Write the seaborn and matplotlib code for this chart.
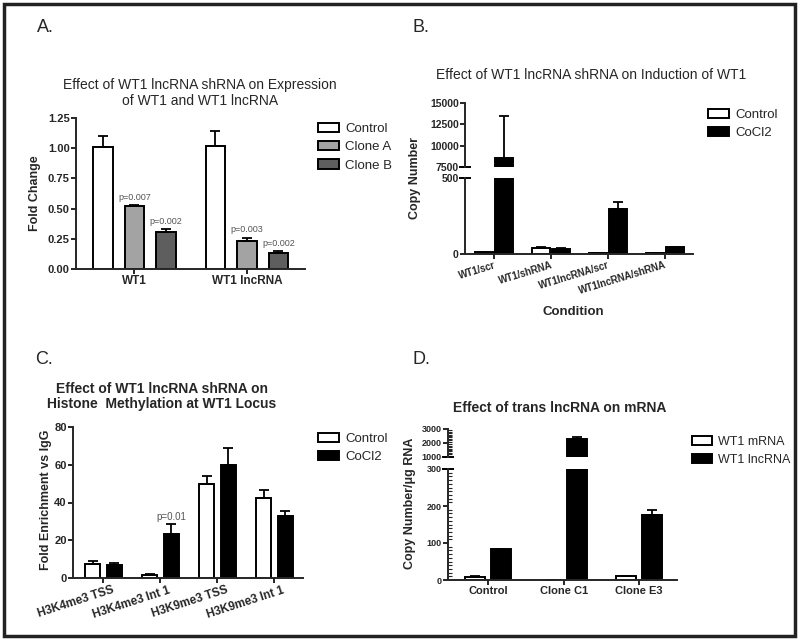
import numpy as np
import pandas as pd
import matplotlib
matplotlib.use('Agg')
import matplotlib.pyplot as plt
from matplotlib.patches import Patch, Rectangle
from matplotlib.ticker import MultipleLocator
import matplotlib.transforms as mtransforms
import seaborn as sns

sns.set_style('ticks')
plt.rcParams['font.family'] = ['Liberation Sans', 'DejaVu Sans']

# ---- data ----
# A: fold change
a_groups = ['WT1', 'WT1 lncRNA']
a_series = ['Control', 'Clone A', 'Clone B']
a_vals = {'Control': [1.01, 1.02], 'Clone A': [0.52, 0.23], 'Clone B': [0.31, 0.13]}
a_errs = {'Control': [0.095, 0.12], 'Clone A': [0.01, 0.03], 'Clone B': [0.02, 0.015]}
a_pvals = {'Clone A': ['p=0.007', 'p=0.003'], 'Clone B': ['p=0.002', 'p=0.002']}
a_colors = ['white', '#a3a3a3', '#5e5e5e']

# B: copy number (broken axis)
b_groups = ['WT1/scr', 'WT1/shRNA', 'WT1lncRNA/scr', 'WT1lncRNA/shRNA']
b_series = ['Control', 'CoCl2']
b_vals = {'Control': [10, 38, 8, 5], 'CoCl2': [8500, 35, 295, 44]}
b_errs = {'Control': [2, 5, 1, 1], 'CoCl2': [4950, 5, 47, 4]}

# C: fold enrichment vs IgG
c_groups = ['H3K4me3 TSS', 'H3K4me3 Int 1', 'H3K9me3 TSS', 'H3K9me3 Int 1']
c_series = ['Control', 'CoCl2']
c_vals = {'Control': [7.4, 1.8, 49.7, 42.4], 'CoCl2': [6.7, 23.5, 60.0, 33.0]}
c_errs = {'Control': [1.8, 0.3, 4.6, 4.0], 'CoCl2': [1.4, 4.9, 9.0, 2.7]}

# D: copy number per ug RNA (broken axis)
d_groups = ['Control', 'Clone C1', 'Clone E3']
d_series = ['WT1 mRNA', 'WT1 lncRNA']
d_vals = {'WT1 mRNA': [8, 1, 10], 'WT1 lncRNA': [83, 2300, 176]}
d_errs = {'WT1 mRNA': [1.5, 0.3, 1.0], 'WT1 lncRNA': [2, 120, 13]}

bw = 1.4  # bar / spine line width


def to_df(groups, series, vals):
    rows = []
    for s in series:
        for g, v in zip(groups, vals[s]):
            rows.append({'group': g, 'series': s, 'value': v})
    return pd.DataFrame(rows)


def fig_ax(l, t, r, b):
    # pixel box -> figure axes
    return fig.add_axes([l / 800, 1 - b / 640, (r - l) / 800, (b - t) / 640])


def draw_bars(ax, groups, series, vals, errs, colors, width, gap):
    df = to_df(groups, series, vals)
    sns.barplot(data=df, x='group', y='value', hue='series', order=groups,
                hue_order=series, palette=colors, saturation=1, errorbar=None,
                edgecolor='black', linewidth=bw, width=width, gap=gap,
                legend=False, ax=ax)
    for cont, s in zip(ax.containers, series):
        for bar, e in zip(cont, errs[s]):
            x = bar.get_x() + bar.get_width() / 2
            ax.errorbar(x, bar.get_height(), yerr=[[0], [e]], fmt='none',
                        ecolor='black', elinewidth=1.3, capsize=3.5, capthick=1.3)


def style(ax, fs=8):
    sns.despine(ax=ax)
    for sp in ['left', 'bottom']:
        ax.spines[sp].set_linewidth(bw)
    ax.tick_params(width=bw, length=3.5, labelsize=fs, pad=1)
    for lab in ax.get_yticklabels() + ax.get_xticklabels():
        lab.set_fontweight('bold')
    ax.set_xlabel('')
    ax.set_ylabel('')


def legend(labels, colors, x, y, fs=9.5):
    handles = [Patch(facecolor=c, edgecolor='black', linewidth=bw) for c in colors]
    fig.legend(handles, labels, loc='upper left', frameon=False,
               bbox_to_anchor=(x / 800, 1 - y / 640), fontsize=fs,
               handlelength=1.6, handleheight=0.7, labelspacing=0.45,
               handletextpad=0.45, borderaxespad=0, borderpad=0)


def break_mark(ax, where):
    ax.plot([0], [where], marker='_', markersize=9, mew=bw, color='black',
            transform=ax.transAxes, clip_on=False)


fig = plt.figure(figsize=(8, 6.4), dpi=100)

# ---------------- A ----------------
ax = fig_ax(76, 118, 305, 269)
draw_bars(ax, a_groups, a_series, a_vals, a_errs, a_colors, 0.84, 0.37)
ax.set_ylim(0, 1.25)
ax.set_xlim(-0.52, 1.516)
ax.set_yticks([0, 0.25, 0.5, 0.75, 1.0, 1.25])
ax.set_yticklabels(['0.00', '0.25', '0.50', '0.75', '1.00', '1.25'])
style(ax, 8)
ax.tick_params(axis='x', labelsize=8.5)
for cont, s in zip(ax.containers, a_series):
    if s in a_pvals:
        for bar, e, p in zip(cont, a_errs[s], a_pvals[s]):
            ax.annotate(p, (bar.get_x() + bar.get_width() / 2, bar.get_height() + e),
                        xytext=(0, 2.5), textcoords='offset points', ha='center',
                        va='bottom', fontsize=6.5, color='#555555')
fig.text(35 / 800, 1 - 193 / 640, 'Fold Change', rotation=90, ha='center',
         va='center', fontsize=9, fontweight='bold')
fig.text(200 / 800, 1 - 78 / 640,
         'Effect of WT1 lncRNA shRNA on Expression\nof WT1 and WT1 lncRNA',
         ha='center', va='top', fontsize=10, linespacing=1.15)
legend(a_series, a_colors, 318, 123)
fig.text(37 / 800, 1 - 27 / 640, 'A.', fontsize=13, va='center')

# ---------------- B ----------------
b_colors = ['white', 'black']
ax_lo = fig_ax(465, 178, 693, 254)
ax_hi = fig_ax(465, 103, 693, 167)
for a in (ax_lo, ax_hi):
    draw_bars(a, b_groups, b_series, b_vals, b_errs, b_colors, 0.70, 0.1)
    a.set_xlim(-0.5, 3.49)
ax_lo.set_ylim(0, 500)
ax_lo.set_yticks([0, 500])
ax_hi.set_ylim(7500, 15000)
ax_hi.set_yticks([7500, 10000, 12500, 15000])
style(ax_lo, 7.5)
style(ax_hi, 7.5)
ax_hi.spines['bottom'].set_visible(False)
ax_hi.set_xticks([])
plt.setp(ax_lo.get_xticklabels(), rotation=17, ha='right',
         rotation_mode='anchor', fontsize=7)
break_mark(ax_lo, 1)
break_mark(ax_hi, 0)
fig.text(415 / 800, 1 - 178 / 640, 'Copy Number', rotation=90, ha='center',
         va='center', fontsize=9, fontweight='bold')
fig.text(573 / 800, 1 - 312 / 640, 'Condition', ha='center', va='center',
         fontsize=9.5, fontweight='bold')
fig.text(591 / 800, 1 - 75 / 640, 'Effect of WT1 lncRNA shRNA on Induction of WT1',
         ha='center', va='center', fontsize=10)
legend(b_series, b_colors, 708, 109)
fig.text(413 / 800, 1 - 27 / 640, 'B.', fontsize=13, va='center')

# ---------------- C ----------------
ax = fig_ax(73, 427, 303, 578)
draw_bars(ax, c_groups, c_series, c_vals, c_errs, b_colors, 0.77, 0.32)
ax.set_ylim(0, 80)
ax.set_xlim(-0.535, 3.5)
ax.set_yticks([0, 20, 40, 60, 80])
style(ax, 8)
plt.setp(ax.get_xticklabels(), rotation=18, ha='right', rotation_mode='anchor',
         fontsize=8.5)
shift = mtransforms.ScaledTranslation(8 / 100, 0, fig.dpi_scale_trans)
for lab in ax.get_xticklabels():
    lab.set_transform(lab.get_transform() + shift)
bar = ax.containers[1][1]
ax.annotate('p=0.01', (bar.get_x() + bar.get_width() / 2,
                       bar.get_height() + c_errs['CoCl2'][1]),
            xytext=(0, 1.5), textcoords='offset points', ha='center', va='bottom',
            fontsize=7, color='#555555')
fig.text(46 / 800, 1 - 500 / 640, 'Fold Enrichment vs IgG', rotation=90,
         ha='center', va='center', fontsize=9, fontweight='bold')
fig.text(162 / 800, 1 - 382 / 640,
         'Effect of WT1 lncRNA shRNA on\nHistone  Methylation at WT1 Locus',
         ha='center', va='top', fontsize=10, fontweight='bold', linespacing=1.1)
legend(c_series, b_colors, 318, 433)
fig.text(35 / 800, 1 - 360 / 640, 'C.', fontsize=13, va='center')

# ---------------- D ----------------
ax_lo = fig_ax(448, 469, 677, 580)
ax_hi = fig_ax(448, 429, 677, 457)
for a in (ax_lo, ax_hi):
    draw_bars(a, d_groups, d_series, d_vals, d_errs, b_colors, 0.69, 0.23)
    a.set_xlim(-0.53, 2.5)
ax_lo.set_ylim(0, 300)
ax_lo.set_yticks([0, 100, 200, 300])
ax_lo.yaxis.set_minor_locator(MultipleLocator(10))
ax_hi.set_ylim(1000, 3000)
ax_hi.set_yticks([1000, 2000, 3000])
ax_hi.yaxis.set_minor_locator(MultipleLocator(100))
style(ax_lo, 6.5)
style(ax_hi, 6.5)
for a in (ax_lo, ax_hi):
    a.tick_params(axis='y', which='minor', width=0.8, length=3, direction='in')
ax_hi.spines['bottom'].set_visible(False)
ax_hi.set_xticks([])
ax_lo.tick_params(axis='x', labelsize=8)
break_mark(ax_lo, 1)
break_mark(ax_hi, 0)
fig.text(410 / 800, 1 - 503 / 640, 'Copy Number/\u03bcg RNA', rotation=90,
         ha='center', va='center', fontsize=9, fontweight='bold')
fig.text(560 / 800, 1 - 408 / 640, 'Effect of trans lncRNA on mRNA',
         ha='center', va='center', fontsize=10, fontweight='bold')
legend(d_series, b_colors, 692, 436, fs=9)
fig.text(413 / 800, 1 - 360 / 640, 'D.', fontsize=13, va='center')

# outer frame
fig.patches.append(Rectangle((4 / 800, 4 / 640), 791 / 800, 632 / 640,
                             transform=fig.transFigure, fill=False,
                             edgecolor='#222222', linewidth=2.5))

fig.savefig('out.png', dpi=100)
